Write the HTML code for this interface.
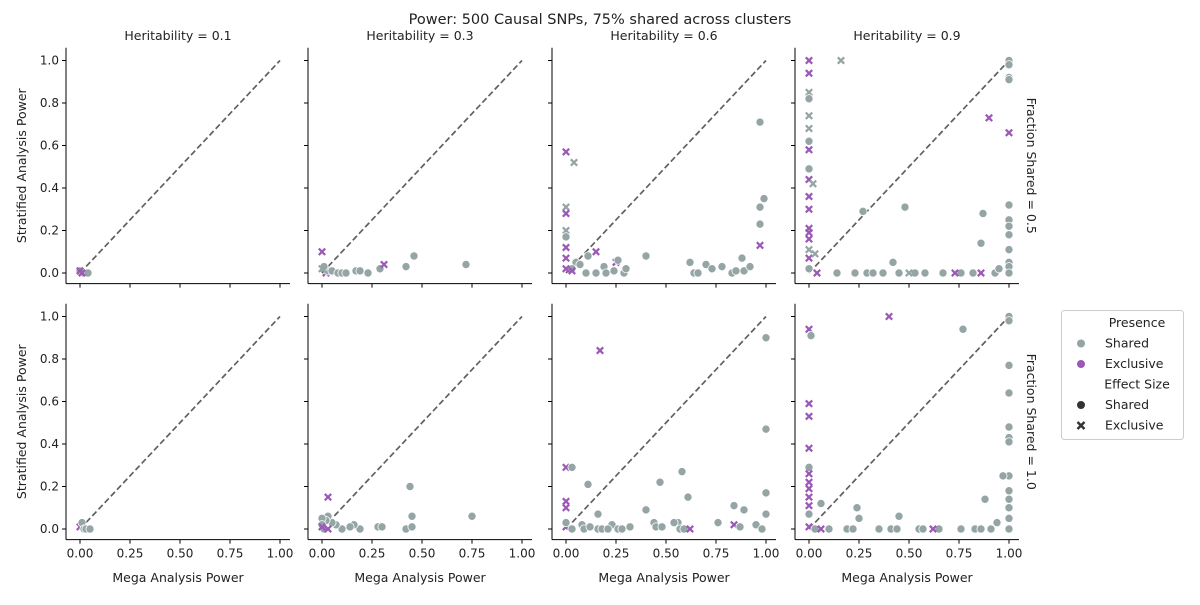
<!DOCTYPE html>
<html><head><meta charset="utf-8"><style>
body{margin:0;background:#fff;font-family:"Liberation Sans","DejaVu Sans",sans-serif}
svg text{font-family:"DejaVu Sans","Liberation Sans",sans-serif;fill:#222}
</style></head><body>
<svg id="c" width="1200" height="600" xmlns="http://www.w3.org/2000/svg">
<text x="600" y="24" text-anchor="middle" font-size="14.5">Power: 500 Causal SNPs, 75% shared across clusters</text>
</svg>
<script>
// panel data: [x, y, presence(S/E), effect(o/x)]
const heritabilities=["0.1","0.3","0.6","0.9"];
const fractions=["0.5","1.0"];
const xTicks=[0,0.25,0.5,0.75,1.0];
const xTickLabels=["0.00","0.25","0.50","0.75","1.00"];
const yTicks=[0,0.2,0.4,0.6,0.8,1.0];
const yTickLabels=["0.0","0.2","0.4","0.6","0.8","1.0"];
const p00=[[0,0.01,"S","o"],[0.02,0,"S","o"],[0.04,0,"S","o"],[0.01,0,"E","x"],[0,0.01,"E","x"]];
const p01=[[0,0.1,"E","x"],[0.01,0.02,"S","x"],[0.02,0,"E","x"],[0.03,0.01,"S","o"],[0.05,0.01,"S","o"],[0.08,0,"S","o"],[0.1,0,"S","o"],[0.12,0,"S","o"],[0.17,0.01,"S","o"],[0.19,0.01,"S","o"],[0.23,0,"S","o"],[0.29,0.02,"S","o"],[0.31,0.04,"E","x"],[0.42,0.03,"S","o"],[0.46,0.08,"S","o"],[0.72,0.04,"S","o"],[0.01,0.03,"S","o"],[0,0.02,"S","x"]];
const p02=[[0,0.57,"E","x"],[0.04,0.52,"S","x"],[0.97,0.71,"S","o"],[0,0.31,"S","x"],[0,0.28,"E","x"],[0,0.2,"S","x"],[0,0.17,"S","o"],[0,0.12,"E","x"],[0,0.07,"E","x"],[0.15,0.1,"E","x"],[0.25,0.05,"E","x"],[0.97,0.13,"E","x"],[0.99,0.35,"S","o"],[0.97,0.31,"S","o"],[0.97,0.23,"S","o"],[0.11,0.08,"S","o"],[0.4,0.08,"S","o"],[0.62,0.05,"S","o"],[0.64,0,"S","o"],[0.66,0,"S","o"],[0.7,0.04,"S","o"],[0.73,0.02,"S","o"],[0.78,0.03,"S","o"],[0.83,0,"S","o"],[0.85,0.01,"S","o"],[0.88,0.07,"S","o"],[0.89,0.01,"S","o"],[0.92,0.03,"S","o"],[0.05,0.05,"S","o"],[0.07,0.04,"S","o"],[0.15,0,"S","o"],[0.19,0.03,"S","o"],[0.2,0,"S","o"],[0.24,0.01,"S","o"],[0.26,0.06,"S","o"],[0.29,0,"S","o"],[0.3,0.02,"S","o"],[0.03,0.02,"S","o"],[0.1,0,"S","o"],[0.03,0.01,"E","x"],[0,0.02,"E","x"]];
const p03=[[0,1.0,"E","x"],[0,0.94,"E","x"],[0.16,1.0,"S","x"],[0,0.85,"S","x"],[0,0.82,"S","o"],[0,0.74,"S","x"],[0,0.68,"S","x"],[0,0.62,"S","o"],[0,0.58,"E","x"],[0,0.49,"S","o"],[0,0.44,"E","x"],[0.02,0.42,"S","x"],[0,0.36,"E","x"],[0,0.3,"E","x"],[0,0.21,"E","x"],[0,0.19,"E","x"],[0,0.16,"E","x"],[0,0.11,"S","x"],[0,0.07,"E","x"],[0,0.02,"S","o"],[0.03,0.09,"S","x"],[0.04,0,"E","x"],[0.27,0.29,"S","o"],[0.48,0.31,"S","o"],[0.87,0.28,"S","o"],[0.86,0.14,"S","o"],[0.42,0.05,"S","o"],[1,1,"S","o"],[1,0.98,"S","o"],[1,0.92,"S","o"],[1,0.91,"S","o"],[1,0.32,"S","o"],[1,0.25,"S","o"],[1,0.22,"S","o"],[1,0.18,"S","o"],[1,0.11,"S","o"],[1,0.05,"S","o"],[1,0.03,"S","o"],[1,0,"S","o"],[0.9,0.73,"E","x"],[1,0.66,"E","x"],[0.14,0,"S","o"],[0.23,0,"S","o"],[0.29,0,"S","o"],[0.32,0,"S","o"],[0.37,0,"S","o"],[0.45,0,"S","o"],[0.52,0,"S","o"],[0.53,0,"S","o"],[0.58,0,"S","o"],[0.67,0,"S","o"],[0.76,0,"S","o"],[0.82,0,"S","o"],[0.93,0,"S","o"],[0.73,0,"E","x"],[0.86,0,"E","x"],[0.5,0,"S","x"],[0.95,0.02,"S","o"]];
const p10=[[0,0.01,"E","x"],[0.01,0.03,"S","o"],[0.02,0,"S","o"],[0.03,0,"S","o"],[0.05,0,"S","o"]];
const p11=[[0.03,0.15,"E","x"],[0.44,0.2,"S","o"],[0.45,0.06,"S","o"],[0.75,0.06,"S","o"],[0.42,0,"S","o"],[0.45,0.01,"S","o"],[0.28,0.01,"S","o"],[0.3,0.01,"S","o"],[0.19,0,"S","o"],[0.16,0.02,"S","o"],[0.14,0.01,"S","o"],[0.1,0,"S","o"],[0.07,0.02,"S","o"],[0.05,0.03,"S","o"],[0.03,0.06,"S","o"],[0.02,0.04,"S","o"],[0,0.05,"S","o"],[0,0.02,"S","o"],[0.01,0,"S","o"],[0.03,0,"E","x"],[0,0.01,"E","x"]];
const p12=[[0.17,0.84,"E","x"],[1,0.9,"S","o"],[1,0.47,"S","o"],[0,0.29,"E","x"],[0.03,0.29,"S","o"],[0.11,0.21,"S","o"],[0.47,0.22,"S","o"],[0.58,0.27,"S","o"],[0.61,0.15,"S","o"],[1,0.17,"S","o"],[1,0.07,"S","o"],[0,0.13,"E","x"],[0,0.1,"E","x"],[0,0.01,"E","x"],[0.16,0.07,"S","o"],[0.4,0.09,"S","o"],[0.84,0.11,"S","o"],[0.89,0.09,"S","o"],[0.76,0.03,"S","o"],[0.44,0.03,"S","o"],[0.45,0.01,"S","o"],[0.56,0.03,"S","o"],[0.54,0.03,"S","o"],[0.57,0,"S","o"],[0.59,0,"S","o"],[0.62,0,"E","x"],[0.84,0.02,"E","x"],[0.87,0.01,"S","o"],[0.95,0.02,"S","o"],[0.98,0,"S","o"],[0,0.03,"S","o"],[0.03,0,"S","o"],[0.08,0.02,"S","o"],[0.09,0,"S","o"],[0.12,0.01,"S","o"],[0.16,0,"S","o"],[0.18,0,"S","o"],[0.23,0.02,"S","o"],[0.21,0,"S","o"],[0.26,0,"S","o"],[0.28,0,"S","o"],[0.32,0.01,"S","o"],[0.48,0.01,"S","o"]];
const p13=[[0.4,1.0,"E","x"],[0,0.94,"E","x"],[0.01,0.91,"S","o"],[0.77,0.94,"S","o"],[1,1,"S","o"],[1,0.98,"S","o"],[1,0.77,"S","o"],[1,0.64,"S","o"],[1,0.48,"S","o"],[1,0.43,"S","o"],[1,0.41,"S","o"],[1,0.25,"S","o"],[0.97,0.25,"S","o"],[1,0.18,"S","o"],[1,0.14,"S","o"],[1,0.1,"S","o"],[1,0.05,"S","o"],[1,0,"S","o"],[0.94,0.03,"S","o"],[0.88,0.14,"S","o"],[0,0.59,"E","x"],[0,0.53,"E","x"],[0,0.38,"E","x"],[0,0.29,"S","o"],[0,0.26,"E","x"],[0,0.22,"E","x"],[0,0.19,"E","x"],[0,0.15,"E","x"],[0,0.11,"E","x"],[0,0.01,"E","x"],[0,0.07,"S","o"],[0.06,0.12,"S","o"],[0.24,0.1,"S","o"],[0.25,0.05,"S","o"],[0.45,0.06,"S","o"],[0.03,0,"S","o"],[0.1,0,"S","o"],[0.19,0,"S","o"],[0.22,0,"S","o"],[0.35,0,"S","o"],[0.41,0,"S","o"],[0.44,0,"S","o"],[0.55,0,"S","o"],[0.57,0,"S","o"],[0.65,0,"S","o"],[0.76,0,"S","o"],[0.83,0,"S","o"],[0.86,0,"S","o"],[0.91,0,"S","o"],[0.06,0,"E","x"],[0.62,0,"E","x"]];
const panels=[[p00,p01,p02,p03],[p10,p11,p12,p13]];

const NS="http://www.w3.org/2000/svg";
const svg=document.getElementById('c');
const colX0=[80,322,566,809], unitX=200;
const rowY0=[273,529], unitY=212.5;
const GREY="#95a5a6", PURP="#9b59b6";
function mk(t,a,p){const e=document.createElementNS(NS,t);for(const k in a)e.setAttribute(k,a[k]);(p||svg).appendChild(e);return e;}
for(let r=0;r<2;r++)for(let c=0;c<4;c++){
  const X=v=>colX0[c]+v*unitX, Y=v=>rowY0[r]-v*unitY;
  const g=mk('g',{});
  
  
  const L=X(-0.07),R=X(1.05),T=Y(1.06),B=Y(-0.05);
  const d=mk('line',{x1:X(0),y1:Y(0),x2:X(1),y2:Y(1),stroke:'#606060','stroke-width':1.7,'stroke-dasharray':'6,3'},g);
  
  
  panels[r][c].forEach(p=>{
    const cx=X(p[0]),cy=Y(p[1]),col=p[2]==="S"?GREY:PURP;
    let m;
    if(p[3]==="o"){m=mk('circle',{cx:cx,cy:cy,r:4.1,fill:col,stroke:'#fff','stroke-width':0.8},g);}
    else{const s=3.2;m=mk('path',{d:`M${cx-s},${cy-s}L${cx+s},${cy+s}M${cx-s},${cy+s}L${cx+s},${cy-s}`,stroke:col,'stroke-width':2.2},g);}
    
    
  });
  mk('line',{x1:L,y1:T,x2:L,y2:B,stroke:'#000','stroke-width':1},g);
  mk('line',{x1:L,y1:B,x2:R,y2:B,stroke:'#000','stroke-width':1},g);
  xTicks.forEach((t,i)=>{
    mk('line',{x1:X(t),y1:B,x2:X(t),y2:B+4,stroke:'#000'},g);
    if(r===1){const tx=mk('text',{x:X(t),y:B+18,'text-anchor':'middle','font-size':12},g);tx.textContent=xTickLabels[i];
      
      }
  });
  yTicks.forEach((t,i)=>{
    mk('line',{x1:L-4,y1:Y(t),x2:L,y2:Y(t),stroke:'#000'},g);
    if(c===0){const tx=mk('text',{x:L-7,y:Y(t)+4,'text-anchor':'end','font-size':12},g);tx.textContent=yTickLabels[i];
      
      }
  });
  if(r===0){const tt=mk('text',{x:(L+R)/2,y:40,'text-anchor':'middle','font-size':12.5},g);tt.textContent='Heritability = '+heritabilities[c];
    
    }
  if(r===1){const xl=mk('text',{x:(L+R)/2,y:582,'text-anchor':'middle','font-size':12.5},g);xl.textContent='Mega Analysis Power';
    
    }
  if(c===0){const cy=(T+B)/2;const yl=mk('text',{x:26,y:cy,'text-anchor':'middle','font-size':12.5,transform:`rotate(-90 26 ${cy})`},g);yl.textContent='Stratified Analysis Power';
    
    }
  if(c===3){const cy=(T+B)/2;const rl=mk('text',{x:1027,y:cy,'text-anchor':'middle','font-size':12.5,transform:`rotate(90 1027 ${cy})`},g);rl.textContent='Fraction Shared = '+fractions[r];
    
    }
}
const lg=mk('g',{});


mk('rect',{x:1061.5,y:310.5,width:122,height:129,rx:3,fill:'#fff',stroke:'#ccc'},lg);
const items=[["Presence",null],["Shared","cg"],["Exclusive","cp"],["Effect Size",null],["Shared","co"],["Exclusive","xx"]];
items.forEach((it,i)=>{
  const y=327+i*20.5;
  if(!it[1]){const t=mk('text',{x:1137,y:y,'text-anchor':'middle','font-size':12.5},lg);t.textContent=it[0];
    
    return;}
  const mx=1081,my=y-4;
  if(it[1]==="cg")mk('circle',{cx:mx,cy:my,r:4.5,fill:GREY,stroke:'#fff'},lg);
  if(it[1]==="cp")mk('circle',{cx:mx,cy:my,r:4.5,fill:PURP,stroke:'#fff'},lg);
  if(it[1]==="co")mk('circle',{cx:mx,cy:my,r:4.5,fill:'#333',stroke:'#fff'},lg);
  if(it[1]==="xx"){const s=3.5;mk('path',{d:`M${mx-s},${my-s}L${mx+s},${my+s}M${mx-s},${my+s}L${mx+s},${my-s}`,stroke:'#333','stroke-width':2.5},lg);}
  const t=mk('text',{x:1105,y:y,'font-size':12.5},lg);t.textContent=it[0];
  
  
});
</script>
</body></html>
